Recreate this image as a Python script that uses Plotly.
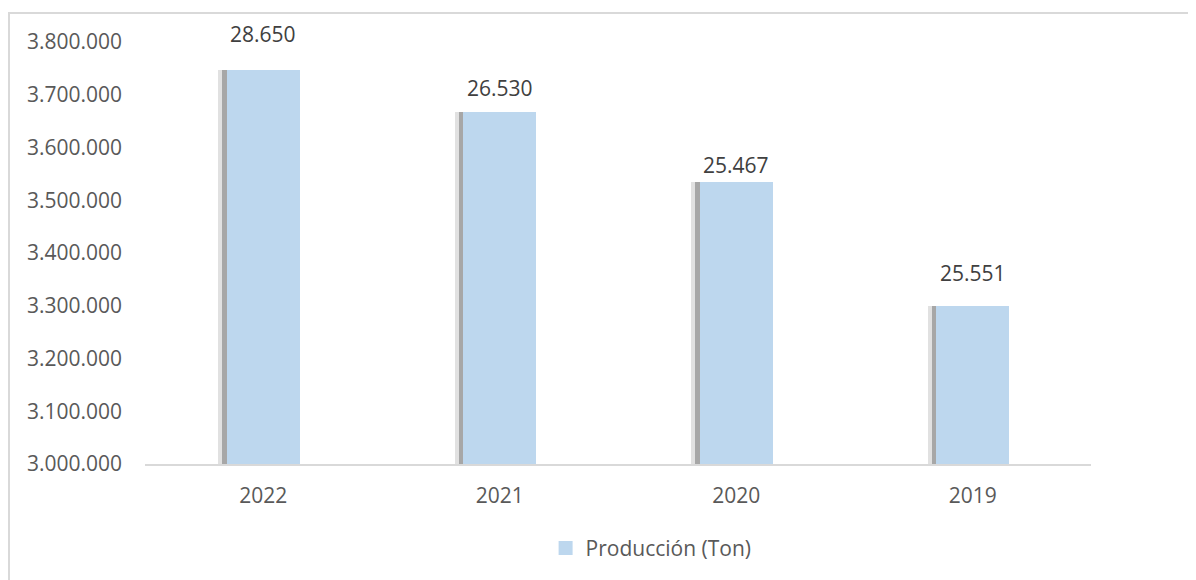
import plotly.graph_objects as go

# datos
years = ["2022", "2021", "2020", "2019"]
produccion = [3747000, 3667000, 3535000, 3300000]
etiquetas = ["28.650", "26.530", "25.467", "25.551"]
y_ticks = [3000000, 3100000, 3200000, 3300000, 3400000, 3500000, 3600000, 3700000, 3800000]
y_tick_text = ["3.000.000", "3.100.000", "3.200.000", "3.300.000", "3.400.000",
               "3.500.000", "3.600.000", "3.700.000", "3.800.000"]

BAR_COLOR = "#BDD7EE"
FONT = "Open Sans"
FS = 21
label_shift = [20, 8, 1, 17]  # desplazamiento manual de etiquetas (px)

fig = go.Figure()

# sombra suave a la izquierda de cada barra (dos capas)
for off, col in [(-0.190, "rgba(170,170,170,0.35)"), (-0.174, "rgba(120,120,120,0.55)")]:
    fig.add_trace(go.Bar(
        x=years, y=produccion,
        width=0.31, offset=off,
        marker=dict(color=col, line=dict(width=0)),
        showlegend=False, hoverinfo="skip"))

fig.add_trace(go.Bar(
    x=years, y=produccion,
    width=0.31, offset=-0.155,
    name="Producción (Ton)", showlegend=False,
    marker=dict(color=BAR_COLOR, line=dict(width=0))))

# entrada de leyenda con cuadrado más grande
fig.add_trace(go.Scatter(
    x=[None], y=[None], mode="markers", name="Producción (Ton)",
    marker=dict(symbol="square", size=14, color=BAR_COLOR)))

for i, (val, txt, sh) in enumerate(zip(produccion, etiquetas, label_shift)):
    fig.add_annotation(x=i, y=val, text=txt, showarrow=False,
                       yanchor="bottom", yshift=sh,
                       font=dict(family=FONT, size=FS, color="#404040"))

# borde del área del gráfico
fig.add_shape(type="rect", xref="paper", yref="paper",
              x0=(1 - 137) / 946, x1=1.3, y0=-0.5, y1=(456 - 5) / 422,
              line=dict(color="#D9D9D9", width=2), layer="below")

fig.update_layout(
    width=1196, height=580,
    margin=dict(l=137, r=113, t=34, b=124),
    paper_bgcolor="white", plot_bgcolor="white",
    barmode="overlay", bargap=0,
    font=dict(family=FONT, size=FS, color="#595959"),
    legend=dict(orientation="h", x=0.535, xanchor="center", y=-0.2, yanchor="middle",
                itemwidth=30, font=dict(family=FONT, size=FS, color="#595959")),
)
fig.update_xaxes(type="category", categoryorder="array", categoryarray=years,
                 range=[-0.5, 3.5], showgrid=False, showline=True, linecolor="#D9D9D9",
                 linewidth=2, ticks="", ticklabelstandoff=12,
                 tickfont=dict(size=FS, color="#595959"))
fig.update_yaxes(range=[3000000, 3800000], tickvals=y_ticks, ticktext=y_tick_text,
                 showgrid=False, zeroline=False, showline=False, ticks="",
                 ticklabelstandoff=22, tickfont=dict(size=FS, color="#595959"))

fig.write_html("out.html")
